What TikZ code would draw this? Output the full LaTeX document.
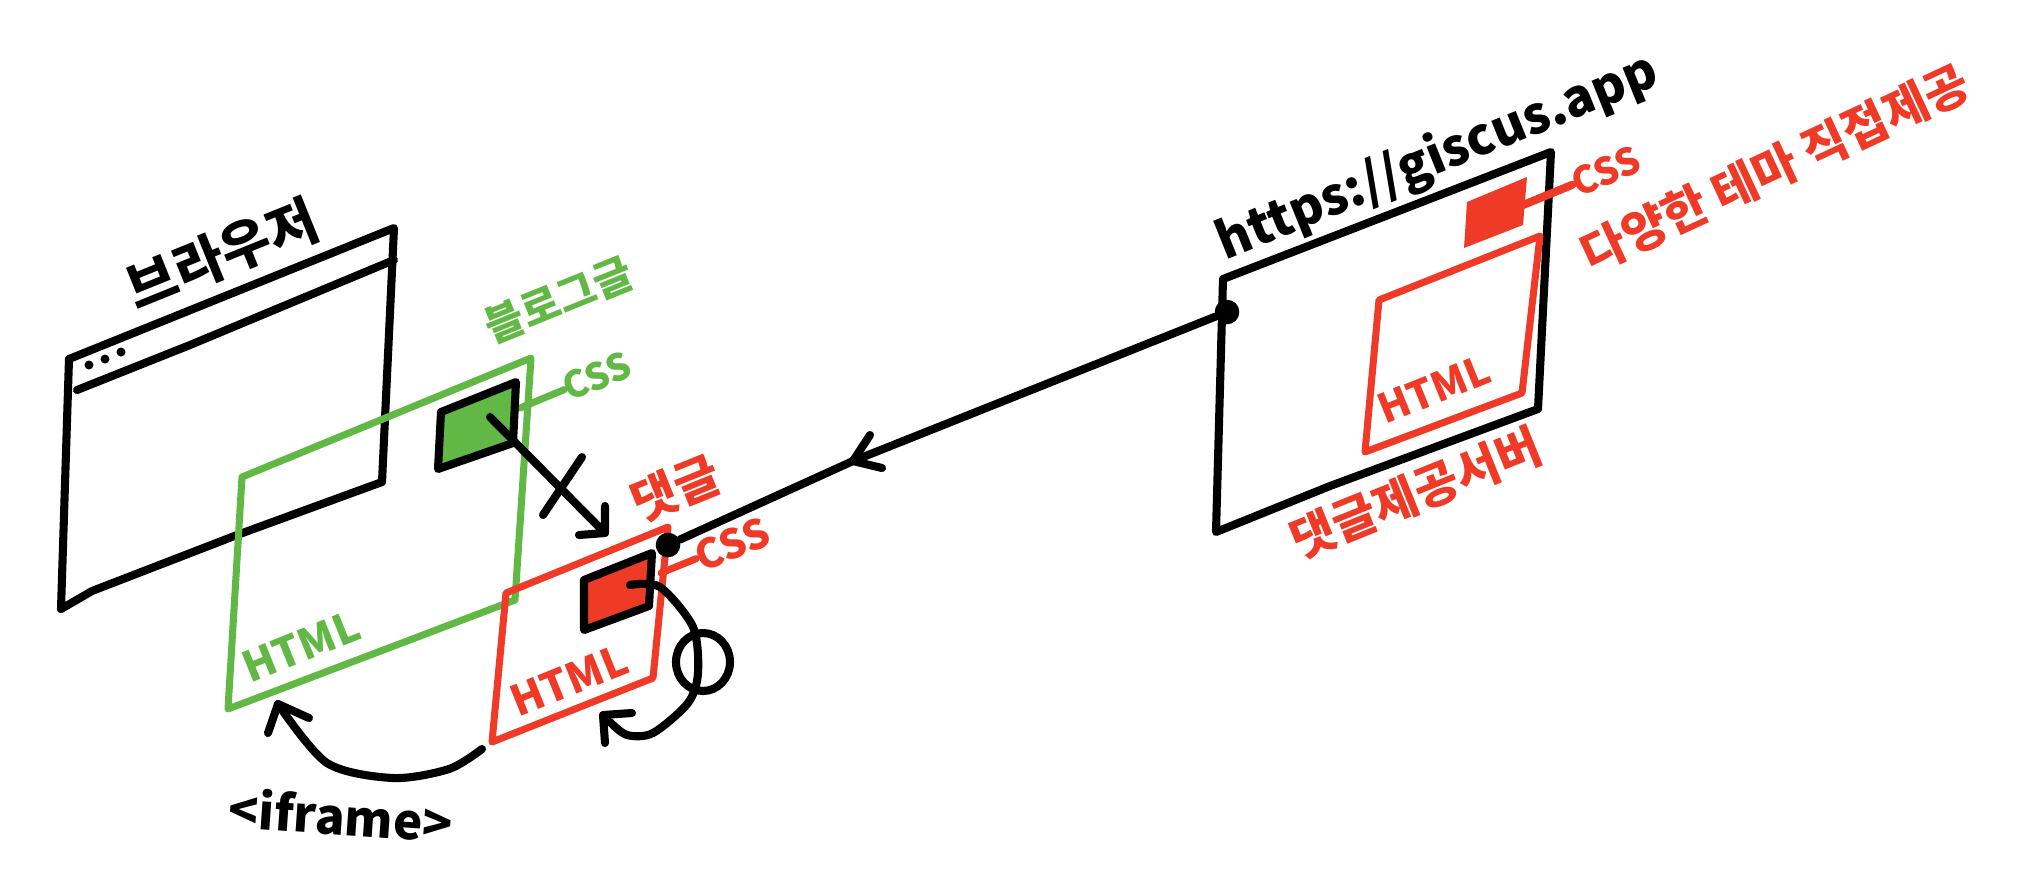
\documentclass[tikz,border=0pt]{standalone}
\usepackage{fontspec}
\usepackage{tikz}
\setmainfont{Noto Sans CJK KR}
\usetikzlibrary{positioning}
\definecolor{sketchgreen}{HTML}{62B845}
\definecolor{sketchred}{HTML}{EE3A26}
\tikzset{
  ink/.style={line width=2.3pt,line cap=round,line join=round},
  thinink/.style={line width=2pt,line cap=round,line join=round},
  hand/.style={font=\bfseries\fontsize{#1}{#1}\selectfont,inner sep=0pt,rotate=22},
  hand/.default=14
}

\begin{document}
\begin{tikzpicture}[x=0.01cm,y=-0.01cm]
\useasboundingbox (0,0) rectangle (2020,890);

% Browser window
\coordinate (brwTL) at (69,359);
\coordinate (brwTR) at (394,228);
\coordinate (brwBR) at (382,482);
\coordinate (brwBL) at (61,609);
\draw[ink] (brwBR) -- (brwTR) -- (brwTL) -- (brwBL) -- (92,591) -- (237,535) -- cycle;
\draw[ink] (77,390) -- (190,345) -- (394,260);
\foreach \x/\y in {89/365, 105/359, 121/352}
    \fill (\x,\y) circle (4.5);
\node[hand=15.5] (brwLabel) at (222,254) {브라우저};

% Blog post
\coordinate (blogTL) at (242,477);
\coordinate (blogTR) at (531,358);
\coordinate (blogBR) at (515,600);
\coordinate (blogBL) at (228,709);
\draw[thinink,sketchgreen] (blogTL) -- (blogTR) -- (blogBR) -- (blogBL) -- cycle;
\node[hand=12,text=sketchgreen] (blogHtml) at (301,646) {HTML};
\node[hand=12,text=sketchgreen] (blogLabel) at (559,300) {블로그글};
\node[hand=10.5,text=sketchgreen] (blogCss) at (597,376) {CSS};
\draw[thinink,sketchgreen] (520,408) -- (blogCss);
\coordinate (gbox) at (490,417);
\draw[ink,fill=sketchgreen] (441,412) -- (516,382) -- (513,443) -- (438,469) -- cycle;

% Comment frame
\coordinate (cmtTL) at (506,593);
\coordinate (cmtTR) at (668,527);
\coordinate (cmtBR) at (653,678);
\coordinate (cmtBL) at (492,742);
\draw[thinink,sketchred] (cmtTL) -- (cmtTR) -- (cmtBR) -- (cmtBL) -- cycle;
\node[hand=12,text=sketchred] (cmtHtml) at (569,680) {HTML};
\node[hand=14,text=sketchred] (cmtLabel) at (676,488) {댓글};
\node[hand=11.5,text=sketchred] (cmtCss) at (732,544) {CSS};
\draw[thinink,sketchred] (661,573) -- (cmtCss);
\draw[ink,fill=sketchred] (584,580) -- (652,553) -- (649,606) -- (584,630) -- cycle;

% Blocked arrow from blog CSS
\coordinate (headG) at (605,533);
\draw[ink] (gbox) -- (headG);
\draw[ink] (605,506) -- (headG) -- (579,535);
\draw[ink] (582,457) -- (543,515);

% Loop on comment CSS
\coordinate (loopS) at (630,585);
\coordinate (loopE) at (610,722);
\draw[ink] plot[smooth] coordinates {(loopS) (660,587) (693,627) (698,673) (688,703) (653,733) (627,735) (loopE)};
\draw[ink] (605,743) -- (603,715) -- (632,713);
\draw[ink] (703,662) ellipse (27 and 29);

% Iframe arrow
\coordinate (ifrS) at (482,749);
\coordinate (ifrE) at (278,704);
\draw[ink] plot[smooth] coordinates {(ifrS) (449,769) (393,778) (327,763) (ifrE)};
\draw[ink] (268,733) -- (ifrE) -- (309,718);
\node[hand=14,rotate=-26] (ifrLabel) at (341,815) {<iframe>};

% Comment server
\coordinate (srvTL) at (1223,279);
\coordinate (srvTR) at (1551,152);
\coordinate (srvBR) at (1538,409);
\coordinate (srvBL) at (1216,532);
\draw[ink] (srvBR) -- (srvTR) -- (srvTL) -- (srvBL) -- (1330,486) -- cycle;
\node[hand=14.5] (srvUrl) at (1438,158) {https://giscus.app};
\node[hand=13.7,text=sketchred] (srvLabel) at (1416,493) {댓글제공서버};
\coordinate (rHtmlTL) at (1379,300);
\coordinate (rHtmlTR) at (1540,236);
\coordinate (rHtmlBR) at (1522,393);
\coordinate (rHtmlBL) at (1365,452);
\draw[thinink,sketchred] (rHtmlTL) -- (rHtmlTR) -- (rHtmlBR) -- (rHtmlBL) -- cycle;
\node[hand=11.5,text=sketchred] (srvHtml) at (1434,389) {HTML};
\fill[sketchred] (1467,202) -- (1527,177) -- (1523,225) -- (1464,248) -- cycle;
\node[hand=10.7,text=sketchred] (srvCss) at (1606,171) {CSS};
\draw[ink,sketchred] (1523,205) -- (srvCss);
\node[hand=13.7,rotate=3,text=sketchred] (srvTheme) at (1775,168) {다양한 테마 직접제공};

% Connector with dots
\node[circle,fill,inner sep=0pt,minimum size=7pt] (srvDot) at (1227,312) {};
\node[circle,fill,inner sep=0pt,minimum size=7pt] (cmtDot) at (668,545) {};
\coordinate (mid) at (853,461);
\draw[ink] (srvDot) -- (mid) -- (cmtDot);
\draw[ink] (870,435) -- (mid) -- (882,468);

\end{tikzpicture}
\end{document}
